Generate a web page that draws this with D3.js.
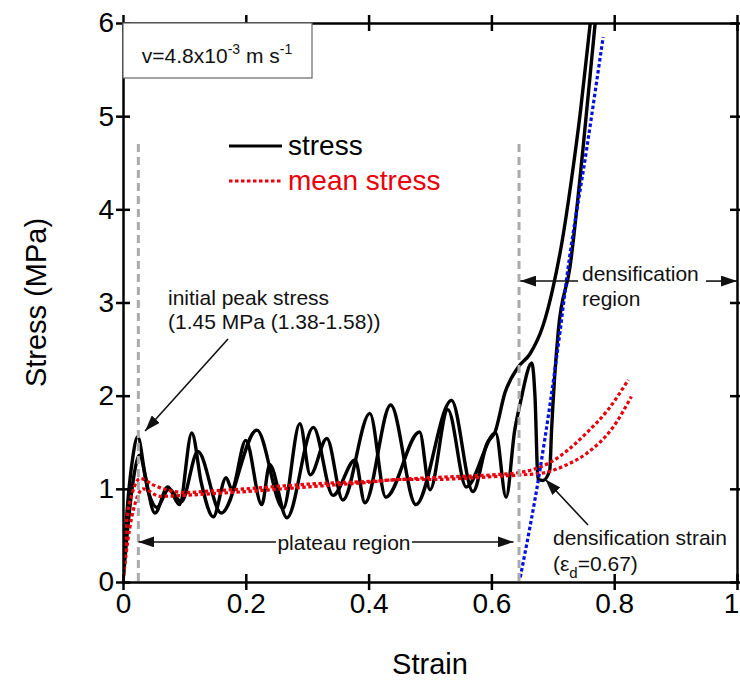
<!DOCTYPE html>
<html>
<head>
<meta charset="utf-8">
<script src="https://cdn.jsdelivr.net/npm/d3@7"></script>
<style>
  body { margin: 0; background: #fff; }
  svg { display: block; font-family: "Liberation Sans", Arial, sans-serif; }
</style>
</head>
<body>
<svg id="chart"></svg>
<script>
// Data
const xTicks = [0, 0.2, 0.4, 0.6, 0.8, 1]
const yTicks = [0, 1, 2, 3, 4, 5, 6]

// stress, specimen 1
const strainA = [0, 0.006, 0.016, 0.024, 0.036, 0.052, 0.073, 0.092, 0.112, 0.128, 0.147, 0.168, 0.177, 0.200, 0.226, 0.239, 0.267, 0.310, 0.342, 0.378, 0.394, 0.436, 0.477, 0.535, 0.570, 0.593, 0.606, 0.622, 0.643, 0.663, 0.684, 0.700, 0.715, 0.730, 0.745, 0.761, 0.770]
const stressA = [0, 0.70, 1.34, 1.56, 1.15, 0.74, 1.02, 0.83, 1.60, 1.05, 0.70, 1.12, 1.00, 1.52, 0.83, 1.26, 0.69, 1.66, 0.93, 1.31, 0.85, 1.90, 0.83, 1.95, 0.97, 1.49, 1.61, 2.03, 2.30, 2.45, 2.75, 3.15, 3.65, 4.30, 5.05, 6.00, 6.50]

// stress, specimen 2
const strainB = [0, 0.008, 0.018, 0.027, 0.042, 0.055, 0.075, 0.095, 0.122, 0.160, 0.218, 0.261, 0.288, 0.305, 0.332, 0.358, 0.402, 0.428, 0.483, 0.500, 0.529, 0.559, 0.607, 0.624, 0.638, 0.647, 0.666, 0.671, 0.676, 0.684, 0.695, 0.698, 0.709, 0.728, 0.749, 0.769, 0.775]
const stressB = [0, 0.60, 1.15, 1.36, 0.95, 0.80, 1.00, 0.86, 1.40, 0.74, 1.63, 0.79, 1.70, 1.15, 1.54, 0.88, 1.81, 0.91, 1.61, 0.99, 1.85, 1.02, 1.60, 0.91, 1.63, 1.92, 2.35, 1.99, 1.10, 1.09, 1.20, 1.63, 2.70, 3.38, 4.64, 6.00, 6.40]

// mean stress
const strainM1 = [0, 0.005, 0.015, 0.028, 0.05, 0.10, 0.15, 0.20, 0.30, 0.40, 0.50, 0.60, 0.65, 0.70, 0.755, 0.79, 0.823]
const stressM1 = [0, 0.60, 0.95, 1.11, 1.04, 0.96, 0.98, 1.00, 1.05, 1.08, 1.12, 1.15, 1.18, 1.30, 1.60, 1.85, 2.17]
const strainM2 = [0, 0.008, 0.02, 0.033, 0.06, 0.10, 0.15, 0.20, 0.30, 0.40, 0.45, 0.50, 0.60, 0.65, 0.684, 0.72, 0.755, 0.798, 0.828]
const stressM2 = [0, 0.45, 0.85, 1.00, 0.92, 0.93, 0.95, 0.97, 1.02, 1.07, 1.10, 1.10, 1.13, 1.15, 1.17, 1.25, 1.38, 1.66, 1.99]

// densification tangent
const strainT = [0.647, 0.679, 0.712, 0.723, 0.755, 0.782]
const stressT = [0.05, 1.20, 2.70, 3.28, 4.64, 5.85]

// region limits (strain) and their guide height
const limits = [0.025, 0.645]
const limitTop = 4.7

// Create SVG
const width = 740, height = 680
const svg = d3.select("#chart").attr("width", width).attr("height", height)
const x = d3.scaleLinear().domain([0, 1]).range([123, 737])
const y = d3.scaleLinear().domain([0, 6]).range([582, 23])
const pts = (xs, ys) => xs.map((v, i) => [v, ys[i]])
const line = d3.line().x(d => x(d[0])).y(d => y(d[1])).curve(d3.curveMonotoneX)

svg.append("defs").append("clipPath").attr("id", "plot")
  .append("rect").attr("x", x(0)).attr("y", y(6)).attr("width", x(1) - x(0)).attr("height", y(0) - y(6))
svg.select("defs").append("marker")
  .attr("id", "head")
  .attr("viewBox", "0 0 16 11")
  .attr("refX", 16).attr("refY", 5.5)
  .attr("markerWidth", 16).attr("markerHeight", 11)
  .attr("markerUnits", "userSpaceOnUse")
  .attr("orient", "auto")
  .append("path").attr("d", "M0,0L16,5.5L0,11z").attr("fill", "#111")

// Render curves
const plot = svg.append("g").attr("clip-path", "url(#plot)")
for (const [xs, ys] of [[strainA, stressA], [strainB, stressB]]) {
  plot.append("path").attr("d", line(pts(xs, ys)))
    .attr("fill", "none").attr("stroke", "#000").attr("stroke-width", 3.4).attr("stroke-linejoin", "round")
}
for (const [xs, ys] of [[strainM1, stressM1], [strainM2, stressM2]]) {
  plot.append("path").attr("d", line(pts(xs, ys)))
    .attr("fill", "none").attr("stroke", "#e8000b").attr("stroke-width", 3.2).attr("stroke-dasharray", "3.5,2.5")
}
plot.append("path").attr("d", line(pts(strainT, stressT)))
  .attr("fill", "none").attr("stroke", "#0010e0").attr("stroke-width", 3.2).attr("stroke-dasharray", "3.5,2.5")
plot.selectAll("line.limit")
  .data(limits)
  .join("line")
  .attr("class", "limit")
  .attr("x1", d => x(d)).attr("x2", d => x(d))
  .attr("y1", y(limitTop)).attr("y2", y(0))
  .attr("stroke", "#aaa").attr("stroke-width", 3).attr("stroke-dasharray", "8,5")

// Render axes
const frame = g => g
  .call(g => g.selectAll("path, line").attr("stroke-width", 2.5))
  .call(g => g.selectAll(".tick text").attr("font-size", 28))
  .attr("font-family", null).attr("font-size", null)

svg.append("g").attr("transform", `translate(0,${y(0)})`)
  .call(d3.axisBottom(x).tickValues(xTicks).tickSizeOuter(0).tickFormat(d3.format("~g")))
  .call(g => g.selectAll(".tick line").attr("y1", -8).attr("y2", 8))
  .call(g => g.selectAll(".tick text").attr("y", 11).attr("dx", d => d === 1 ? -6 : null))
  .call(frame)
svg.append("g").attr("transform", `translate(0,${y(6)})`)
  .call(d3.axisTop(x).tickValues(xTicks).tickSizeOuter(0).tickFormat(""))
  .call(g => g.selectAll(".tick line").attr("y1", -8).attr("y2", 8))
  .call(frame)
svg.append("g").attr("transform", `translate(${x(0)},0)`)
  .call(d3.axisLeft(y).tickValues(yTicks).tickSizeOuter(0).tickFormat(d3.format("d")))
  .call(g => g.selectAll(".tick line").attr("x1", -7).attr("x2", 7))
  .call(g => g.selectAll(".tick text").attr("x", -9))
  .call(frame)
svg.append("g").attr("transform", `translate(${x(1)},0)`)
  .call(d3.axisRight(y).tickValues(yTicks).tickSizeOuter(0).tickFormat(""))
  .call(g => g.selectAll(".tick line").attr("x1", -7).attr("x2", 7))
  .call(frame)

svg.append("text")
  .attr("x", (x(0) + x(1)) / 2).attr("y", 674)
  .attr("text-anchor", "middle").attr("font-size", 29)
  .text("Strain")
svg.append("text")
  .attr("transform", `translate(46,${(y(0) + y(6)) / 2}) rotate(-90)`)
  .attr("text-anchor", "middle").attr("font-size", 29)
  .text("Stress (MPa)")

// Velocity box
svg.append("rect")
  .attr("x", x(0)).attr("y", y(6)).attr("width", 189).attr("height", 55)
  .attr("fill", "#fff").attr("stroke", "#666").attr("stroke-width", 1.2)
const vel = svg.append("text").attr("x", 217).attr("y", 63).attr("text-anchor", "middle").attr("font-size", 21).attr("fill", "#111")
vel.append("tspan").text("v=4.8x10")
vel.append("tspan").attr("dy", -9).attr("font-size", 14).text("-3")
vel.append("tspan").attr("dy", 9).text(" m s")
vel.append("tspan").attr("dy", -9).attr("font-size", 14).text("-1")

// Legend
const legend = [
  { name: "stress", color: "#000", dash: null },
  { name: "mean stress", color: "#e8000b", dash: "3.5,2.5" },
]
svg.append("g").attr("class", "legend")
  .selectAll("g")
  .data(legend)
  .join("g")
  .attr("transform", (_, i) => `translate(229,${146 + i * 35})`)
  .each(function (d) {
    d3.select(this).append("line")
      .attr("x1", 0).attr("x2", 53)
      .attr("stroke", d.color).attr("stroke-width", 3).attr("stroke-dasharray", d.dash)
    d3.select(this).append("text")
      .attr("x", 59).attr("y", 9)
      .attr("font-size", 28).attr("fill", d.color)
      .text(d.name)
  })

// Annotations
const note = svg.append("g").attr("font-size", 21).attr("fill", "#111")
const arrow = (x1, y1, x2, y2) => note.append("line")
  .attr("x1", x1).attr("y1", y1).attr("x2", x2).attr("y2", y2)
  .attr("stroke", "#111").attr("stroke-width", 1.6).attr("marker-end", "url(#head)")

note.append("text").attr("x", 168).attr("y", 305).text("initial peak stress")
note.append("text").attr("x", 168).attr("y", 329).text("(1.45 MPa (1.38-1.58))")
arrow(228, 339, x(0.036), y(1.62))

note.append("text").attr("x", 344).attr("y", 550).attr("text-anchor", "middle").text("plateau region")
arrow(276, y(0.43), x(limits[0]), y(0.43))
arrow(412, y(0.43), x(0.636), y(0.43))

note.append("text").attr("x", 582).attr("y", 281).text("densification")
note.append("text").attr("x", 582).attr("y", 306).text("region")
arrow(578, y(3.23), x(0.647), y(3.23))
arrow(706, y(3.23), x(1), y(3.23))

note.append("text").attr("x", 553).attr("y", 545).text("densification strain")
const eps = note.append("text").attr("x", 553).attr("y", 571)
eps.append("tspan").text("(ε")
eps.append("tspan").attr("dy", 7).attr("font-size", 15).text("d")
eps.append("tspan").attr("dy", -7).text("=0.67)")
arrow(588, 525, x(0.688), y(1.1))
</script>
</body>
</html>
